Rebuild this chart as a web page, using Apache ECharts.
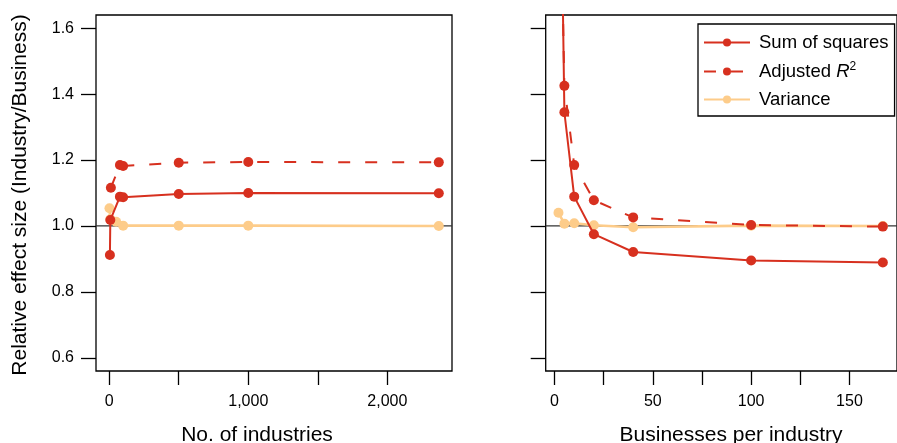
<!DOCTYPE html>
<html>
<head>
<meta charset="utf-8">
<script src="https://cdn.jsdelivr.net/npm/echarts@6/dist/echarts.min.js"></script>
<style>
html,body{margin:0;padding:0;background:#fff;}
#c{width:897px;height:443px;}
</style>
</head>
<body>
<div id="c"></div>
<script>
// ---- data ----
const seriesNames = ['Sum of squares', 'Adjusted R2', 'Variance'];
// Left panel: number of industries vs relative effect size
const leftSumSquares = [[5, 0.912], [8, 1.018], [77, 1.089], [100, 1.087], [500, 1.097], [1000, 1.100], [2370, 1.099]];
const leftAdjR2 = [[12, 1.116], [77, 1.185], [100, 1.182], [500, 1.192], [1000, 1.194], [2370, 1.193]];
const leftVariance = [[2, 1.054], [8, 1.020], [50, 1.013], [100, 1.001], [500, 1.001], [1000, 1.001], [2370, 1.000]];
// Right panel: businesses per industry
const businessesPerIndustry = [2, 5, 10, 20, 40, 100, 167];
const rightSumSquares = [2.61, 1.345, 1.089, 0.975, 0.921, 0.895, 0.889];
const rightAdjR2 = [2.35, 1.425, 1.185, 1.078, 1.026, 1.003, 0.998];
const rightVariance = [1.040, 1.007, 1.008, 1.002, 0.996, 1.001, 1.000];
// Axis ranges, tick values / labels
const leftXRange = [-95, 2465];
const rightXRange = [-4.5, 174.2];
const yRange = [0.56, 1.64];
const yTicks = [0.6, 0.8, 1.0, 1.2, 1.4, 1.6];
const leftXTicks = [0, 500, 1000, 1500, 2000];
const leftXLabels = [0, 1000, 2000];
const rightXTicks = [0, 25, 50, 75, 100, 125, 150];
const rightXLabels = [0, 50, 100, 150];
const referenceValue = 1.0;

// ---- styles ----
const RED = '#d7301f';
const ORANGE = '#fdcc8a';
const FONT = '"Liberation Sans", Arial, Helvetica, sans-serif';

const chart = echarts.init(document.getElementById('c'), null, {renderer: 'canvas'});

function xAxisDef(gridIndex, range, ticks, labels, fmt) {
  return {
    type: 'value', gridIndex, min: range[0], max: range[1],
    axisLine: {show: false, onZero: false},
    splitLine: {show: false},
    axisTick: {show: true, inside: false, length: 14, customValues: ticks, lineStyle: {color: '#000', width: 1.3}},
    axisLabel: {show: true, customValues: labels, margin: 23, fontFamily: FONT, fontSize: 16, color: '#000', formatter: fmt}
  };
}
function yAxisDef(gridIndex, showLabels) {
  return {
    type: 'value', gridIndex, min: yRange[0], max: yRange[1],
    axisLine: {show: false, onZero: false},
    splitLine: {show: false},
    axisTick: {show: true, inside: false, length: 15, customValues: yTicks, lineStyle: {color: '#000', width: 1.3}},
    axisLabel: {show: showLabels, customValues: yTicks, margin: 22, fontFamily: FONT, fontSize: 16, color: '#000',
      formatter: v => v.toFixed(1)}
  };
}

const symbolSize = 10;
function lineSeries(name, data, xi, yi, color, dashed, z, width) {
  return {
    name, type: 'line', data, xAxisIndex: xi, yAxisIndex: yi,
    symbol: 'circle', symbolSize, showSymbol: true,
    itemStyle: {color},
    lineStyle: {color, width: width || 2, type: dashed ? [12, 15] : 'solid'},
    clip: true, z, animation: false
  };
}
function refSeries(xi, range) {
  return {
    name: 'ref' + xi, type: 'line', xAxisIndex: xi, yAxisIndex: xi,
    data: [[range[0], referenceValue], [range[1], referenceValue]],
    symbol: 'none', silent: true, z: 1,
    lineStyle: {color: '#333', width: 1.2}
  };
}

const option = {
  animation: false,
  backgroundColor: '#fff',
  grid: [
    {left: 96, top: 15, width: 356, height: 356, show: true, borderColor: '#000', borderWidth: 1.3, backgroundColor: 'transparent'},
    {left: 545.7, top: 15, width: 356, height: 356, show: true, borderColor: '#000', borderWidth: 1.3, backgroundColor: 'transparent'}
  ],
  xAxis: [
    xAxisDef(0, leftXRange, leftXTicks, leftXLabels, v => v.toLocaleString('en-US')),
    xAxisDef(1, rightXRange, rightXTicks, rightXLabels, v => String(v))
  ],
  yAxis: [yAxisDef(0, true), yAxisDef(1, false)],
  legend: {
    data: seriesNames,
    orient: 'vertical',
    left: 698, top: 24,
    padding: [9, 6, 7, 5],
    itemGap: 9,
    itemWidth: 46, itemHeight: 10,
    borderColor: '#000', borderWidth: 1.3,
    backgroundColor: '#fff',
    textStyle: {
      fontFamily: FONT, fontSize: 18.5, color: '#000', padding: [0, 0, 0, 4],
      rich: {
        i: {fontFamily: FONT, fontSize: 18.5, fontStyle: 'italic', color: '#000'},
        sup: {fontFamily: FONT, fontSize: 12, color: '#000', verticalAlign: 'top', padding: [0, 0, 9, 0]}
      }
    },
    formatter: name => name === 'Adjusted R2' ? 'Adjusted {i|R}{sup|2}' : name
  },
  graphic: [
    {type: 'text', x: 20, y: 195, rotation: Math.PI / 2,
      style: {text: 'Relative effect size (Industry/Business)', fontFamily: FONT, fontSize: 21, fill: '#000', align: 'center', verticalAlign: 'middle'}},
    {type: 'text', x: 257, y: 435,
      style: {text: 'No. of industries', fontFamily: FONT, fontSize: 21, fill: '#000', align: 'center', verticalAlign: 'middle'}},
    {type: 'text', x: 731, y: 435,
      style: {text: 'Businesses per industry', fontFamily: FONT, fontSize: 21, fill: '#000', align: 'center', verticalAlign: 'middle'}}
  ],
  series: [
    refSeries(0, leftXRange),
    refSeries(1, rightXRange),
    lineSeries('Variance', leftVariance, 0, 0, ORANGE, false, 2, 2.6),
    lineSeries('Sum of squares', leftSumSquares, 0, 0, RED, false, 3),
    lineSeries('Adjusted R2', leftAdjR2, 0, 0, RED, true, 4),
    lineSeries('Variance', businessesPerIndustry.map((x, i) => [x, rightVariance[i]]), 1, 1, ORANGE, false, 2, 2.6),
    lineSeries('Sum of squares', businessesPerIndustry.map((x, i) => [x, rightSumSquares[i]]), 1, 1, RED, false, 3),
    lineSeries('Adjusted R2', businessesPerIndustry.map((x, i) => [x, rightAdjR2[i]]), 1, 1, RED, true, 4)
  ]
};
chart.setOption(option);
</script>
</body>
</html>
